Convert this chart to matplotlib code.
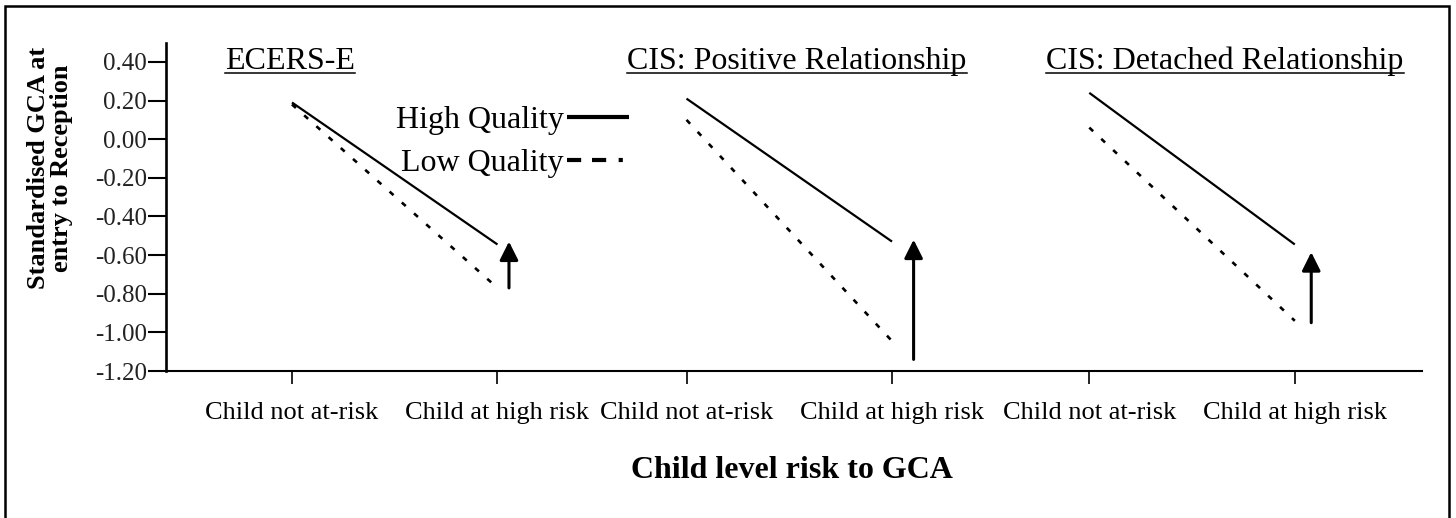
import numpy as np
import matplotlib
matplotlib.use("Agg")
import matplotlib.pyplot as plt
from matplotlib.lines import Line2D
from matplotlib.patches import Rectangle

# Data
panels       = ["ECERS-E", "CIS: Positive Relationship", "CIS: Detached Relationship"]
risk_levels  = ["Child not at-risk", "Child at high risk"]
high_quality = [[0.19, -0.545], [0.21, -0.53], [0.24, -0.545]]
low_quality  = [[0.18, -0.77], [0.10, -1.045], [0.06, -0.94]]
arrow_bottom = [-0.77, -1.14, -0.95]
arrow_top    = [-0.53, -0.52, -0.585]
y_ticks      = [0.40, 0.20, 0.00, -0.20, -0.40, -0.60, -0.80, -1.00, -1.20]

# Layout (x in units of the within-panel tick spacing)
panel_offset = [0.0, 1.92, 3.88]
arrow_dx     = [1.056, 1.105, 1.08]
title_x      = [-0.01, 2.457, 4.54]

W, H = 1456, 518
plt.rcParams['font.family'] = ['Liberation Serif', 'DejaVu Serif']
fig = plt.figure(figsize=(W / 100, H / 100), dpi=100)
ax = fig.add_axes([166 / W, (H - 371) / H, (1422 - 166) / W, (371 - 43) / H])

for p in range(len(panels)):
  xs = [panel_offset[p], panel_offset[p] + 1]
  ax.plot(xs, high_quality[p], color='black', lw=1.6, solid_capstyle='butt')
  ax.plot(xs, low_quality[p], color='black', lw=1.9, linestyle=(0, (2.0, 4.2)))
  ax.annotate("", xy=(panel_offset[p] + arrow_dx[p], arrow_top[p]),
              xytext=(panel_offset[p] + arrow_dx[p], arrow_bottom[p]),
              arrowprops=dict(arrowstyle='-|>', color='black', lw=2.2,
                              mutation_scale=28, shrinkA=0, shrinkB=0))

ax.set_xlim(-0.613, 5.499)
ax.set_ylim(-1.2, 0.498)
ax.set_yticks(y_ticks)
ax.set_yticklabels(["%.2f" % v for v in y_ticks], fontsize=18, color='#222222')
xt = [o + i for o in panel_offset for i in range(2)]
ax.set_xticks(xt)
ax.set_xticklabels(risk_levels * len(panels), fontsize=19)
ax.tick_params(axis='y', direction='out', length=13, width=1.5, pad=0.5)
ax.tick_params(axis='x', direction='out', length=9, width=1.2, pad=13)
for s in ['top', 'right']:
  ax.spines[s].set_visible(False)
ax.spines['left'].set_linewidth(1.9)
ax.spines['bottom'].set_linewidth(1.5)

# Panel titles, underlined
titles = []
for p, name in enumerate(panels):
  titles.append(ax.text(title_x[p], 0.364, name, fontsize=23, ha='center', va='baseline'))

handles = [Line2D([], [], color='black', lw=3, solid_capstyle='butt'),
           Line2D([], [], color='black', lw=3, linestyle=(0, (3.4, 2.6, 3.4, 3.0, 1.0, 6)))]
ax.legend(handles, ["High Quality", "Low Quality"], loc='upper left',
          bbox_to_anchor=(0.183, 0.808), frameon=False, markerfirst=False,
          fontsize=23, handlelength=1.95, handletextpad=0.1, labelspacing=0.42,
          borderpad=0, borderaxespad=0)

fig.text(50 / W, (H - 168) / H, "Standardised GCA at\nentry to Reception", rotation=90,
         ha='center', va='center', fontsize=19, fontweight='bold', linespacing=1.0,
         multialignment='center')
fig.text(792 / W, (H - 470) / H, "Child level risk to GCA", ha='center', va='center',
         fontsize=23, fontweight='bold')

fig.patches.append(Rectangle((5 / W, -0.05), (1449 - 5) / W, 0.05 + (H - 6) / H,
                             transform=fig.transFigure, fill=False, lw=1.8,
                             edgecolor='black'))

fig.canvas.draw()
inv = ax.transData.inverted()
for t in titles:
  bb = t.get_window_extent()
  x0 = inv.transform((bb.x0, 0))[0]
  x1 = inv.transform((bb.x1, 0))[0]
  ax.plot([x0, x1], [0.343, 0.343], color='black', lw=1.1, clip_on=False)

fig.savefig("out.png", dpi=100)
